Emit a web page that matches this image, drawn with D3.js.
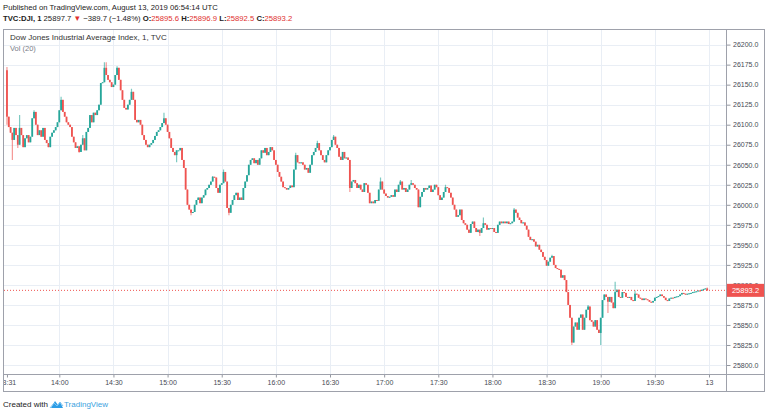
<!DOCTYPE html>
<html><head><meta charset="utf-8">
<script src="https://cdn.jsdelivr.net/npm/d3@7"></script>
<style>
body{margin:0;background:#fff;}
svg{display:block;font-family:"Liberation Sans",Arial,sans-serif;}
</style>
</head><body>
<svg id="c" width="768" height="414"></svg>
<script>
// ---- data (1-minute bars, 13:31 .. 19:59 UTC, Aug 12 2019) ----
const firstOpen = 26168;
const closes = [
26110,26097,26090,26081,26096,26087,26075,26096,26087,26072,
26083,26087,26078,26085,26108,26116,26100,26087,26093,26085,
26096,26081,26077,26072,26085,26090,26093,26097,26103,26118,
26131,26116,26110,26103,26100,26097,26085,26078,26071,26073,
26066,26075,26083,26068,26091,26096,26112,26103,26115,26112,
26118,26125,26152,26153,26171,26162,26156,26153,26147,26150,
26162,26171,26156,26143,26131,26121,26119,26125,26131,26141,
26131,26106,26103,26106,26100,26087,26081,26075,26072,26075,
26077,26081,26086,26091,26093,26097,26102,26108,26100,26091,
26083,26071,26066,26062,26068,26068,26071,26056,26046,26019,
26000,25994,25990,25991,26000,26006,26009,26002,26009,26012,
26019,26021,26025,26029,26035,26034,26021,26015,26025,26027,
26041,26029,25996,25990,26000,26006,26012,26015,26006,26009,
26006,26021,26029,26037,26050,26056,26058,26052,26056,26050,
26058,26068,26065,26071,26062,26066,26072,26068,26056,26050,
26041,26035,26029,26022,26021,26019,26021,26024,26022,26044,
26062,26053,26052,26053,26050,26044,26046,26040,26050,26062,
26066,26071,26077,26068,26062,26056,26053,26062,26068,26072,
26081,26085,26075,26071,26060,26056,26066,26058,26059,26056,
26021,26029,26031,26027,26021,26025,26019,26016,26027,26025,
26015,26002,26004,26002,26006,26005,26019,26029,26019,26014,
26011,26009,26010,26012,26010,26019,26016,26025,26029,26019,
26021,26016,26019,26025,26027,26025,26021,26019,25997,26010,
26016,26021,26019,26021,26024,26016,26019,26025,26022,26012,
26006,26009,26016,26022,26021,26015,26009,26000,25994,25985,
25987,25994,25981,25977,25975,25969,25965,25976,25979,25971,
25966,25969,25965,25971,25977,25975,25969,25971,25970,25971,
25966,25965,25975,25979,25977,25979,25977,25979,25976,25977,
25979,25994,25990,25984,25981,25977,25978,25974,25969,25960,
25956,25957,25954,25948,25950,25944,25941,25935,25931,25924,
25929,25934,25936,25925,25921,25920,25919,25909,25912,25906,
25891,25875,25859,25828,25848,25853,25844,25859,25863,25844,
25859,25869,25873,25856,25854,25848,25856,25844,25840,25859,
25881,25888,25885,25879,25885,25878,25871,25891,25894,25885,
25884,25891,25890,25885,25884,25885,25881,25880,25889,25888,
25884,25883,25881,25883,25882,25881,25879,25878,25880,25884,
25885,25886,25888,25886,25884,25881,25880,25883,25884,25883.5,
25885,25885.5,25886,25888,25890,25889,25888,25889,25889.5,25890,
25891,25891.5,25892,25893,25892.5,25894,25895,25895.6,25893.2
];
// notable wicks: [minute index, high, low]
const wicks = [
[1,26172,26100],[4,null,26056],[7,null,26071],[8,26112,null],[16,26118,null],
[31,26135,null],[41,null,26065],[43,26087,null],[55,26178,null],[56,26178,null],
[62,26173,null],[70,26145,null],[88,26115,null],[95,null,26053],[103,null,25987],
[115,26036,null],[121,26044,null],[124,null,25987],[161,26065,null],[173,26080,null],
[182,26087,null],[191,null,26016],[208,26034,null],[219,26031,null],[225,26031,null],
[244,26025,null],[263,null,25961],[265,25984,null],[282,25996,null],[303,25937.5,null],
[314,null,25825],[323,25875,null],[330,null,25825],[334,null,25865],[338,25904,null],
[349,25893,null],[389,25896.9,25892.5]
];
const priceTicks = [25800,25825,25850,25875,25900,25925,25950,25975,26000,26025,26050,26075,26100,26125,26150,26175,26200];
const timeTickMinutes = [1,30,60,90,120,150,180,210,240,270,300,330,360,390];
const timeTickLabels = ["13:31","14:00","14:30","15:00","15:30","16:00","16:30","17:00","17:30","18:00","18:30","19:00","19:30","13"];
const lastClose = 25893.2;
const header1 = "Published on TradingView.com, August 13, 2019 06:54:14 UTC";
const chartTitle = "Dow Jones Industrial Average Index, 1, TVC";
const volLabel = "Vol (20)";

// ---- layout ----
const L = 4, R = 726.5, T = 30, B = 374.5, OUTR = 764.5, OUTB = 391.5;
const UP = "#26a69a", DOWN = "#ef5350";
const svg = d3.select("#c");

const x = d3.scaleLinear().domain([30, 390]).range([59.3, 709]);
const y = d3.scaleLinear().domain([25800, 26200]).range([365, 44.6]);

const bars = closes.map((c, i) => {
  const o = i === 0 ? firstOpen : closes[i - 1];
  return {m: i + 1, o, c, h: Math.max(o, c), l: Math.min(o, c)};
});
wicks.forEach(([m, h, l]) => {
  const b = bars[m - 1];
  if (h != null) b.h = Math.max(b.h, h);
  if (l != null) b.l = Math.min(b.l, l);
});

const defs = svg.append("defs");
defs.append("clipPath").attr("id", "plot").append("rect")
  .attr("x", L).attr("y", T).attr("width", R - L).attr("height", B - T);
defs.append("clipPath").attr("id", "taxis").append("rect")
  .attr("x", L).attr("y", B).attr("width", R - L).attr("height", OUTB - B);

// grid
const grid = svg.append("g").attr("clip-path", "url(#plot)");
grid.selectAll("line.h").data(priceTicks).join("line")
  .attr("x1", L).attr("x2", R)
  .attr("y1", d => Math.round(y(d)) + 0.5).attr("y2", d => Math.round(y(d)) + 0.5)
  .attr("stroke", "#e9eef5").attr("stroke-width", 1);
grid.selectAll("line.v").data(timeTickMinutes.slice(1)).join("line")
  .attr("y1", T).attr("y2", B)
  .attr("x1", d => Math.round(x(d)) + 0.5).attr("x2", d => Math.round(x(d)) + 0.5)
  .attr("stroke", "#e9eef5").attr("stroke-width", 1);

// candles
const cg = svg.append("g").attr("clip-path", "url(#plot)");
cg.selectAll("line.wick").data(bars).join("line")
  .attr("x1", d => x(d.m)).attr("x2", d => x(d.m))
  .attr("y1", d => y(d.h)).attr("y2", d => y(d.l))
  .attr("stroke", d => d.c >= d.o ? UP : DOWN)
  .attr("stroke-opacity", 0.6).attr("stroke-width", 1.2);
cg.selectAll("rect.body").data(bars).join("rect")
  .attr("x", d => x(d.m) - 0.9).attr("width", 1.8)
  .attr("y", d => y(Math.max(d.o, d.c)))
  .attr("height", d => Math.max(1, Math.abs(y(d.o) - y(d.c))))
  .attr("fill", d => d.c >= d.o ? UP : DOWN);

// last price line
svg.append("line")
  .attr("x1", L).attr("x2", R)
  .attr("y1", y(lastClose)).attr("y2", y(lastClose))
  .attr("stroke", DOWN).attr("stroke-width", 1).attr("stroke-dasharray", "1,2");

// price axis
const ya = svg.append("g").attr("transform", `translate(${R},0)`)
  .call(d3.axisRight(y).tickValues(priceTicks).tickFormat(d3.format(".1f")).tickSize(4).tickPadding(2.5));
ya.select(".domain").remove();
ya.selectAll("line").attr("stroke", "#9598a1");
ya.selectAll("text").attr("fill", "#474a54").style("font-size", "7px").style("font-family", "'Liberation Sans',Arial,sans-serif");

// time axis
const xa = svg.append("g").attr("clip-path", "url(#taxis)").append("g")
  .attr("transform", `translate(0,${B})`)
  .call(d3.axisBottom(x).tickValues(timeTickMinutes).tickFormat((d, i) => timeTickLabels[i]).tickSize(3).tickPadding(3));
xa.select(".domain").remove();
xa.selectAll("line").attr("stroke", "#9598a1");
xa.selectAll("text").attr("fill", "#474a54").style("font-size", "7px").style("font-family", "'Liberation Sans',Arial,sans-serif");

// price label box
const ly = y(lastClose);
svg.append("rect").attr("x", R).attr("y", ly - 6.5).attr("width", OUTR - R).attr("height", 13).attr("fill", DOWN);
svg.append("text").attr("x", 745.5).attr("y", ly + 2.5).attr("text-anchor", "middle")
  .attr("fill", "#fff").style("font-size", "7.5px").text(d3.format(".1f")(lastClose));

// borders
const bc = "#9ea1ab";
svg.append("rect").attr("x", 3.5).attr("y", T - 0.5).attr("width", OUTR - 3.5).attr("height", OUTB - T + 0.5)
  .attr("fill", "none").attr("stroke", bc);
svg.append("line").attr("x1", R).attr("x2", R).attr("y1", T - 0.5).attr("y2", OUTB).attr("stroke", bc);
svg.append("line").attr("x1", 3.5).attr("x2", OUTR).attr("y1", B).attr("y2", B).attr("stroke", bc);

// header
svg.append("text").attr("x", 3).attr("y", 10).attr("fill", "#222").style("font-size", "7.7px").text(header1);
const h2 = svg.append("text").attr("x", 3).attr("y", 20.5).attr("fill", "#222").style("font-size", "7.7px");
h2.append("tspan").attr("font-weight", "bold").text("TVC:DJI, 1");
h2.append("tspan").text(" 25897.7 ");
h2.append("tspan").attr("fill", "#e0312f").text("▼");
h2.append("tspan").text(" −389.7 (−1.48%) ");
[["O:", "25895.6"], ["H:", "25896.9"], ["L:", "25892.5"], ["C:", "25893.2"]].forEach(([k, v], i) => {
  h2.append("tspan").attr("font-weight", "bold").text((i ? " " : "") + k);
  h2.append("tspan").attr("fill", "#e0312f").text(v);
});

// chart legend
svg.append("text").attr("x", 10).attr("y", 40).attr("fill", "#333").style("font-size", "8px").text(chartTitle);
svg.append("text").attr("x", 10).attr("y", 51).attr("fill", "#787b86").style("font-size", "7.5px").text(volLabel);

// footer
svg.append("text").attr("x", 3).attr("y", 407).attr("fill", "#222").style("font-size", "8px").text("Created with");
const logo = svg.append("g").attr("transform", "translate(50,398)");
logo.append("path").attr("d", "M1,10 L5,3 L8,7 L10,4 L13,10 Z").attr("fill", "#2d9de6");
logo.append("path").attr("d", "M0,10 L4,5 L7,8 L10,4 L13,8").attr("fill", "none").attr("stroke", "#7cc4f2").attr("stroke-width", 1);
svg.append("text").attr("x", 64).attr("y", 407).attr("fill", "#3ba2e0").style("font-size", "8px").text("TradingView");
</script>
</body></html>
